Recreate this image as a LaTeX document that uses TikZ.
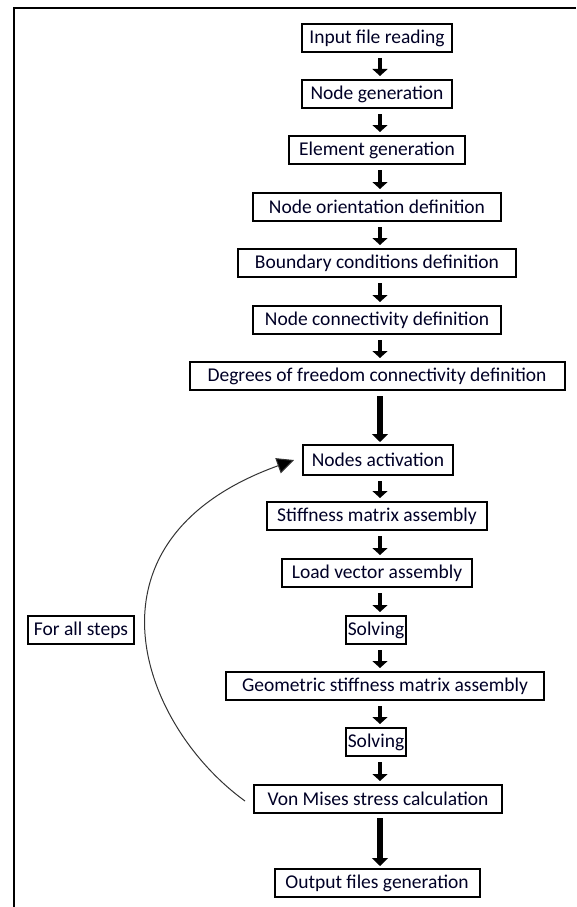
\documentclass[tikz,border=0pt]{standalone}
\usepackage{fontspec}
\setmainfont{Carlito}
\usetikzlibrary{arrows.meta}
\begin{document}
\begin{tikzpicture}[x=1pt,y=-1pt,
  box/.style={draw, line width=2pt, minimum height=28pt, inner xsep=2pt, inner ysep=0pt,
    font=\fontsize{19.5}{22}\selectfont, text=black!85!blue},
  sarrow/.style={line width=4.5pt, -{Triangle[length=7pt,width=15pt]}},
  larrow/.style={line width=6pt, -{Triangle[length=8pt,width=16pt]}},
  loop/.style={line width=1pt, draw=black!80, -{Triangle[length=17pt,width=16pt,fill=black]}}]
\useasboundingbox (0,0) rectangle (576,907);
\fill[white] (0,0) rectangle (576,907);
\draw[line width=2pt] (14,907) -- (14,8) -- (576,8);

\node[box, minimum width=150pt] (n1) at (377,38) {Input file reading};
\node[box, minimum width=150pt] (n2) at (377,94) {Node generation};
\node[box, minimum width=176pt] (n3) at (377,150) {Element generation};
\node[box, minimum width=248pt] (n4) at (377,207) {Node orientation definition};
\node[box, minimum width=278pt] (n5) at (377,263) {Boundary conditions definition};
\node[box, minimum width=248pt] (n6) at (377,320) {Node connectivity definition};
\node[box, minimum width=375pt] (n7) at (377,376) {Degrees of freedom connectivity definition};
\node[box, minimum width=150pt, minimum height=30pt] (n8) at (378,460) {Nodes activation};
\node[box, minimum width=220pt] (n9) at (377,516) {Stiffness matrix assembly};
\node[box, minimum width=190pt] (n10) at (377,573) {Load vector assembly};
\node[box, minimum width=59pt] (n11) at (376,630) {Solving};
\node[box, minimum width=318pt] (n12) at (385,686) {Geometric stiffness matrix assembly};
\node[box, minimum width=59pt] (n13) at (376,742) {Solving};
\node[box, minimum width=248pt] (n14) at (378,799) {Von Mises stress calculation};
\node[box, minimum width=205pt] (n15) at (377,883) {Output files generation};
\node[box, minimum width=106pt] (fa) at (81,630) {For all steps};

\foreach \a/\b in {n1/n2,n2/n3,n3/n4,n4/n5,n5/n6,n6/n7,n8/n9,n9/n10,n10/n11,n11/n12,n12/n13,n13/n14}
  \draw[sarrow] ([yshift=-5pt]\a.south -| 380,0) -- ([yshift=3pt]\b.north -| 380,0);
\draw[larrow] ([yshift=-5pt]n7.south -| 380,0) -- ([yshift=2pt]n8.north -| 380,0);
\draw[larrow] ([yshift=-4pt]n14.south -| 380,0) -- ([yshift=2pt]n15.north -| 380,0);

\coordinate (ls) at ([xshift=-8pt,yshift=-2pt]n14.west);
\coordinate (le) at ([xshift=-8pt]n8.west);
\draw[loop] (ls) .. controls (140,725) and (72,540) .. (le);
\end{tikzpicture}
\end{document}
